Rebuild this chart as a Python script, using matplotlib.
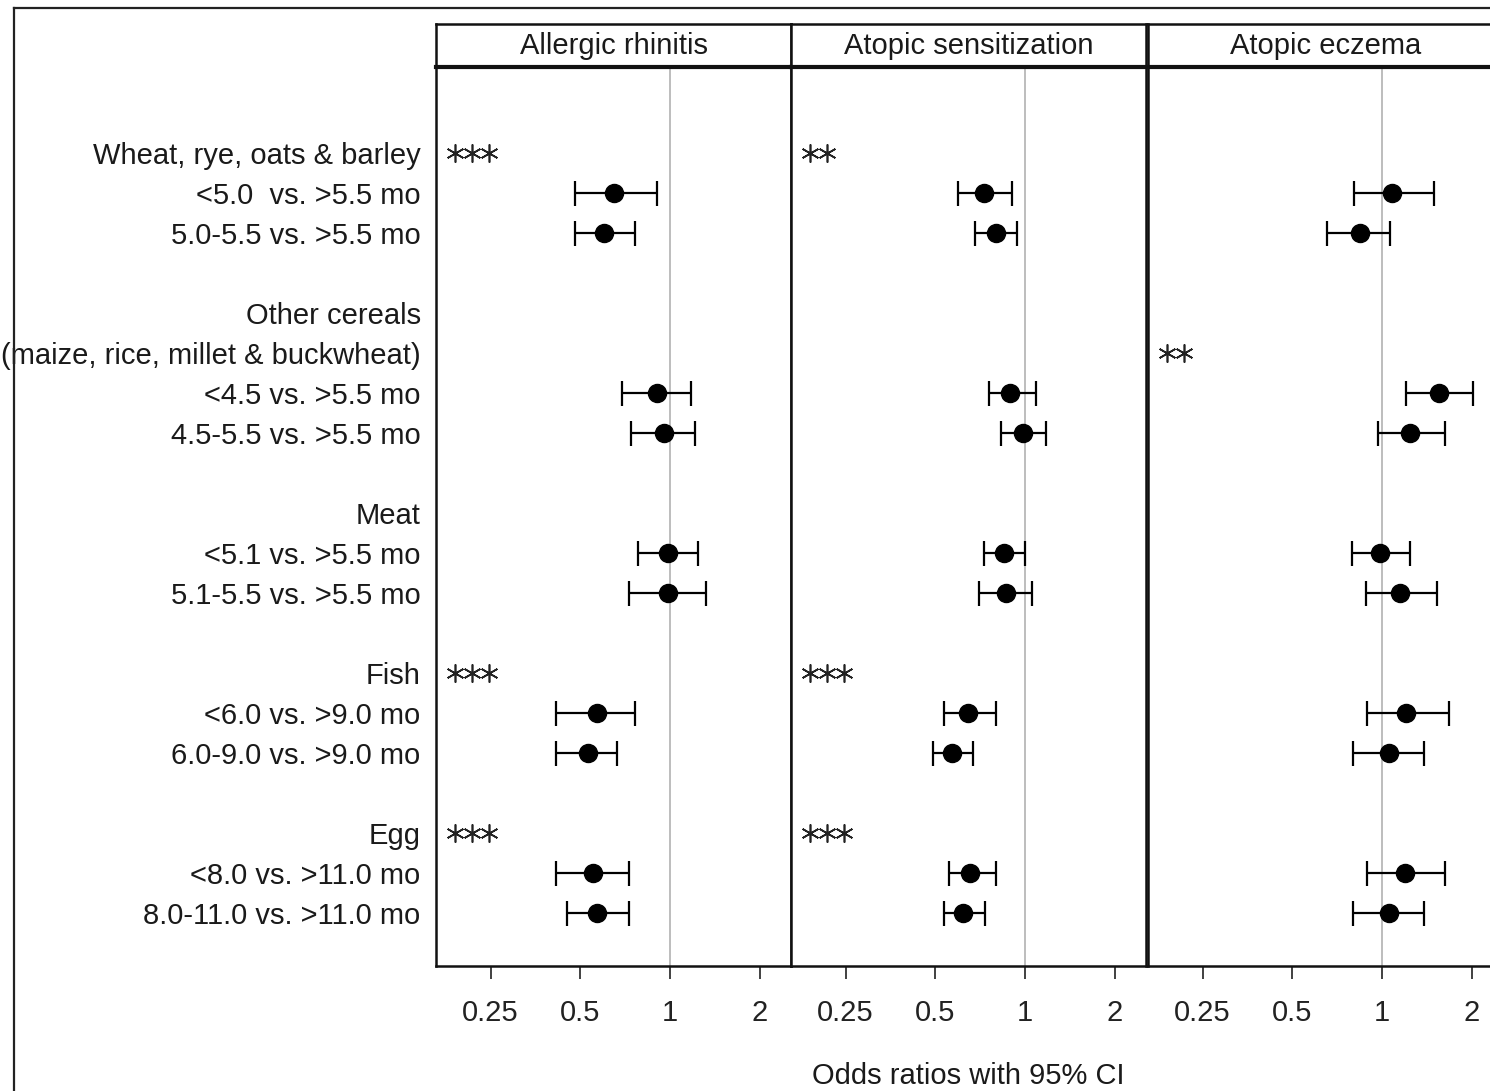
"""Forest plot: odds ratios (95% CI) for timing of food introduction vs three outcomes."""
import numpy as np
import matplotlib
matplotlib.use("Agg")
import matplotlib.pyplot as plt
from matplotlib.lines import Line2D

plt.rcParams["font.family"] = ["Liberation Sans", "DejaVu Sans"]

OUTCOMES = ["Allergic rhinitis", "Atopic sensitization", "Atopic eczema"]

# rows from top; "" rows are blank spacers
ROW_LABELS = [
    "Wheat, rye, oats & barley", "<5.0  vs. >5.5 mo", "5.0-5.5 vs. >5.5 mo", "",
    "Other cereals", "(maize, rice, millet & buckwheat)", "<4.5 vs. >5.5 mo",
    "4.5-5.5 vs. >5.5 mo", "",
    "Meat", "<5.1 vs. >5.5 mo", "5.1-5.5 vs. >5.5 mo", "",
    "Fish", "<6.0 vs. >9.0 mo", "6.0-9.0 vs. >9.0 mo", "",
    "Egg", "<8.0 vs. >11.0 mo", "8.0-11.0 vs. >11.0 mo",
]
EST_ROWS = [1, 2, 6, 7, 10, 11, 14, 15, 18, 19]

# odds ratios and 95% CI, one array per outcome, same order as EST_ROWS
OR_AR = [0.65, 0.60, 0.90, 0.95, 0.98, 0.985, 0.57, 0.53, 0.55, 0.57]
LO_AR = [0.48, 0.48, 0.69, 0.74, 0.78, 0.73, 0.415, 0.415, 0.415, 0.45]
HI_AR = [0.905, 0.76, 1.175, 1.21, 1.24, 1.32, 0.76, 0.665, 0.725, 0.725]

OR_AS = [0.725, 0.795, 0.89, 0.985, 0.85, 0.865, 0.645, 0.57, 0.655, 0.62]
LO_AS = [0.595, 0.68, 0.755, 0.83, 0.73, 0.70, 0.535, 0.49, 0.555, 0.535]
HI_AS = [0.905, 0.94, 1.09, 1.175, 1.0, 1.05, 0.795, 0.67, 0.795, 0.735]

OR_AE = [1.08, 0.84, 1.55, 1.24, 0.985, 1.15, 1.20, 1.055, 1.19, 1.055]
LO_AE = [0.805, 0.655, 1.20, 0.97, 0.79, 0.885, 0.89, 0.80, 0.89, 0.80]
HI_AE = [1.49, 1.06, 2.02, 1.62, 1.24, 1.53, 1.675, 1.38, 1.62, 1.38]

# significance stars: (row, number of stars)
STARS_AR = [(0, 3), (13, 3), (17, 3)]
STARS_AS = [(0, 2), (13, 3), (17, 3)]
STARS_AE = [(5, 2)]

DATA = [(OR_AR, LO_AR, HI_AR, STARS_AR),
        (OR_AS, LO_AS, HI_AS, STARS_AS),
        (OR_AE, LO_AE, HI_AE, STARS_AE)]

W, H = 1490, 1091
FS = 21
fig = plt.figure(figsize=(W / 100, H / 100), dpi=100)

lefts = [436, 791, 1148]
pw = 355
top, bot = 67, 966
strip_top = 24
ticks = [0.25, 0.5, 1, 2]

for i, (name, (orv, lo, hi, stars)) in enumerate(zip(OUTCOMES, DATA)):
    ax = fig.add_axes([lefts[i] / W, 1 - bot / H, pw / W, (bot - top) / H])
    ax.set_xscale("log")
    ax.set_xlim(0.164, 2.54)
    ax.set_ylim(20.33, -2.15)
    ax.axvline(1, color="#bdbdbd", lw=1.4, zorder=1)
    orv, lo, hi = map(np.asarray, (orv, lo, hi))
    ax.errorbar(orv, EST_ROWS, xerr=[orv - lo, hi - orv], fmt="o", color="black",
                ms=13, elinewidth=1.6, capsize=9, capthick=1.6, zorder=3)
    # significance asterisks, packed tightly just inside the left spine
    for row, n in stars:
        xs = [0.054 + 0.048 * k for k in range(n)]
        ax.plot(xs, [row] * n, linestyle="none", marker=(6, 2, 0), ms=13,
                mew=1.2, color="#222", transform=ax.get_yaxis_transform())
    ax.set_xticks(ticks)
    ax.set_xticklabels(["0.25", "0.5", "1", "2"])
    ax.xaxis.set_minor_locator(matplotlib.ticker.NullLocator())
    ax.tick_params(axis="x", direction="out", length=9, width=1.3, color="#333",
                   labelsize=FS, pad=15, labelcolor="#222")
    if i == 0:
        ax.set_yticks(range(len(ROW_LABELS)))
        ax.set_yticklabels(ROW_LABELS)
        ax.tick_params(axis="y", length=0, pad=11, labelsize=FS, labelcolor="#1a1a1a")
    else:
        ax.set_yticks([])
    for s in ax.spines.values():
        s.set_linewidth(1.8)
        s.set_color("#111")
    # strip header
    sx = fig.add_axes([lefts[i] / W, 1 - top / H, pw / W, (top - strip_top) / H])
    sx.set_xticks([]); sx.set_yticks([])
    for s in sx.spines.values():
        s.set_linewidth(1.8)
        s.set_color("#111")
    sx.spines["bottom"].set_linewidth(3)
    sx.text(0.5, 0.5, name, ha="center", va="center", fontsize=FS, color="#1a1a1a")

fig.text(968 / W, 1 - 1076 / H, "Odds ratios with 95% CI", ha="center", va="center",
         fontsize=FS, color="#1a1a1a")

# outer frame (left + top edges visible; rest cut off by image), drawn over labels
fig.add_artist(Line2D([14 / W, 14 / W], [0, 1 - 8 / H], color="#222", lw=1.6, zorder=10))
fig.add_artist(Line2D([14 / W, 1], [1 - 8 / H, 1 - 8 / H], color="#222", lw=1.6, zorder=10))

fig.savefig("out.png", dpi=100)
